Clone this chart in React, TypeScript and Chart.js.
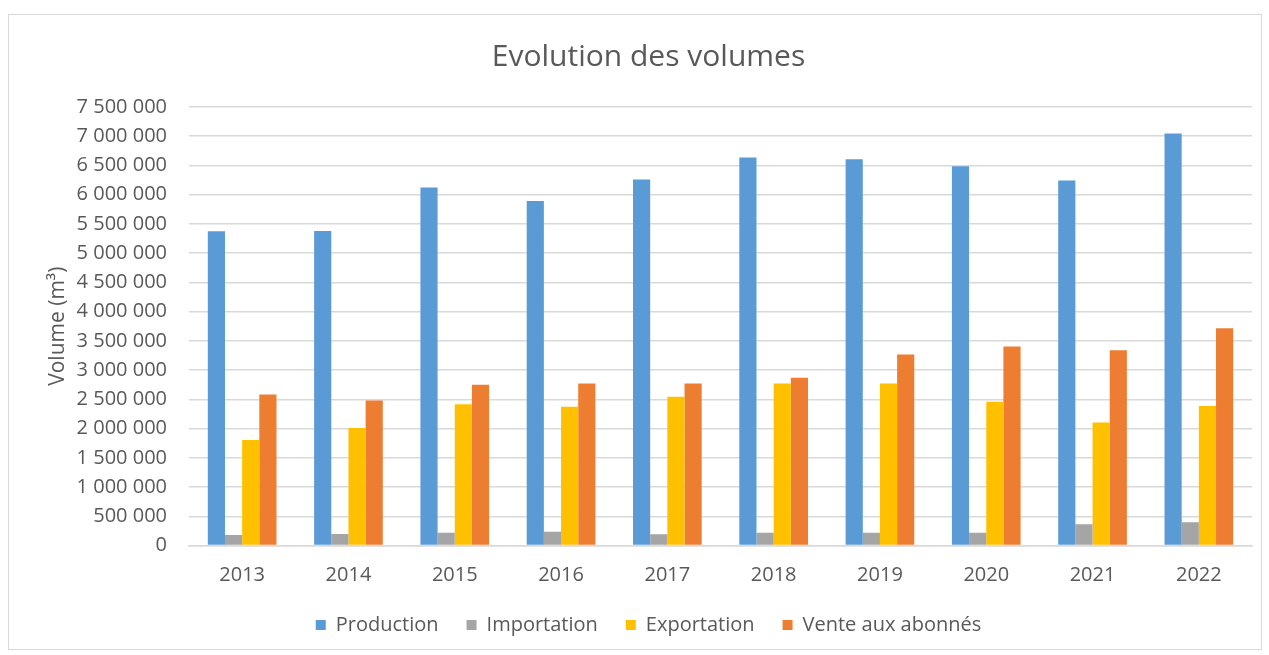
import React, { useEffect, useRef } from "react";
import { Chart, registerables } from "chart.js";

Chart.register(...registerables);

const years = ["2013", "2014", "2015", "2016", "2017", "2018", "2019", "2020", "2021", "2022"];
const production = [5376000, 5378000, 6122000, 5893000, 6259000, 6635000, 6606000, 6486000, 6242000, 7045000];
const importation = [179000, 197000, 219000, 236000, 191000, 219000, 219000, 219000, 362000, 396000];
const exportation = [1803000, 2008000, 2418000, 2373000, 2544000, 2772000, 2772000, 2458000, 2105000, 2384000];
const venteAbonnes = [2584000, 2482000, 2749000, 2772000, 2772000, 2868000, 3268000, 3405000, 3341000, 3717000];
const seriesNames = ["Production", "Importation", "Exportation", "Vente aux abonnés"];
const seriesColors = ["#5B9BD5", "#A5A5A5", "#FFC000", "#ED7D31"];

const fmt = (v: number) => String(Math.round(v)).replace(/\B(?=(\d{3})+(?!\d))/g, " ");

export default function App() {
  const ref = useRef<HTMLCanvasElement | null>(null);
  useEffect(() => {
    if (!ref.current) return;
    const textColor = "#595959";
    const family = "'Open Sans', sans-serif";
    const values = [production, importation, exportation, venteAbonnes];
    const chart = new Chart(ref.current, {
      type: "bar",
      data: {
        labels: years,
        datasets: values.map((d, i) => ({
          label: seriesNames[i],
          data: d,
          backgroundColor: seriesColors[i],
          borderWidth: 0,
          categoryPercentage: 0.646,
          barPercentage: 1,
        })),
      },
      options: {
        animation: false,
        responsive: false,
        layout: { padding: { left: 36, right: 9, top: 0, bottom: 4 } },
        plugins: {
          title: {
            display: true,
            text: "Evolution des volumes",
            color: textColor,
            font: { family, size: 30, weight: "normal" },
            padding: { top: 24, bottom: 32 },
          },
          legend: {
            position: "bottom",
            labels: {
              color: textColor,
              font: { family, size: 20 },
              boxWidth: 10,
              boxHeight: 10,
              padding: 28,
            },
          },
          tooltip: { enabled: false },
        },
        scales: {
          x: {
            grid: { display: false },
            border: { display: true, color: "#D9D9D9", width: 1.5 },
            ticks: { color: textColor, font: { family, size: 20 }, padding: 10, maxRotation: 0 },
            afterFit: (s: any) => { s.height = 41.5; },
          },
          y: {
            min: 0,
            max: 7500000,
            grid: { color: "#D9D9D9", lineWidth: 1.5, drawTicks: false },
            border: { display: false },
            ticks: {
              stepSize: 500000,
              color: textColor,
              font: { family, size: 20 },
              padding: 22,
              callback: (v: any) => fmt(Number(v)),
            },
            title: {
              display: true,
              text: "Volume (m³)",
              color: textColor,
              font: { family, size: 21 },
              padding: { top: 0, bottom: 0 },
            },
            afterFit: (s: any) => { s.width = 144; },
          },
        },
      },
    });
    return () => chart.destroy();
  }, []);
  return (
    <div
      style={{
        position: "absolute",
        left: 8,
        top: 14,
        width: 1254,
        height: 636,
        border: "1px solid #D9D9D9",
        boxSizing: "border-box",
        background: "#fff",
      }}
    >
      <canvas ref={ref} width={1252} height={634} style={{ display: "block" }} />
    </div>
  );
}
